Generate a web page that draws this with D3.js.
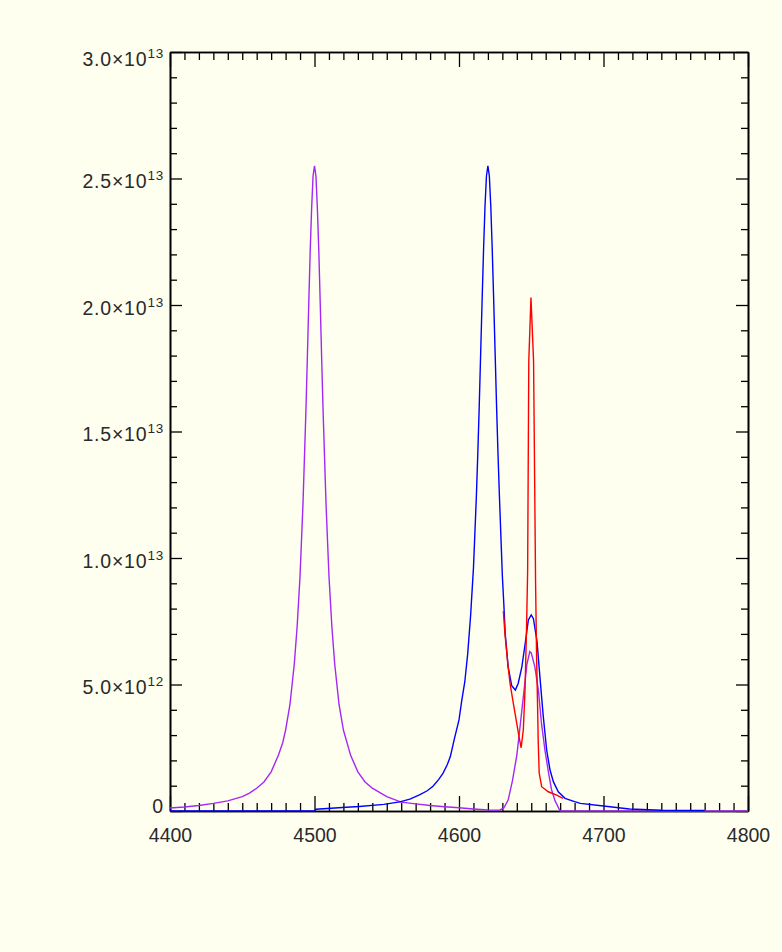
<!DOCTYPE html>
<html lang="en">
<head>
<meta charset="UTF-8">
<title>Spectra</title>
<style>
    html, body { margin: 0; padding: 0; background: #fffff0; }
    #chart { display: block; }
    .axis text { font-family: "Liberation Sans", Arial, sans-serif; font-size: 19.5px; fill: #2a2a2a; }
    .ylab text { letter-spacing: 0.8px; }
    .axis path, .axis line { stroke: #000; }
</style>
</head>
<body>
<svg id="chart"></svg>
<script src="https://cdn.jsdelivr.net/npm/d3@7"></script>
<script>
// values in units of 1e12
var purpleX = [4400, 4410, 4420, 4430, 4440, 4450, 4455, 4460, 4465, 4470, 4475, 4478, 4480, 4483, 4486, 4488, 4490, 4492, 4494, 4495, 4496, 4497, 4498, 4499, 4500,
    4501, 4502, 4503, 4504, 4505, 4506, 4508, 4510, 4512, 4514, 4517, 4520, 4525, 4530, 4535, 4540, 4550, 4560, 4570, 4580, 4590, 4600, 4610, 4620, 4628,
    4631, 4634, 4637, 4640, 4642, 4644.5, 4647, 4649, 4650, 4652.5, 4655, 4657, 4659.5, 4662, 4664, 4666.5, 4670, 4800];
var purpleY = [0.12, 0.16, 0.22, 0.3, 0.4, 0.57, 0.71, 0.9, 1.15, 1.55, 2.2, 2.7, 3.2, 4.2, 5.8, 7.3, 9.3, 12.1, 15.7, 17.8, 20.0, 22.1, 23.8, 25.1, 25.5,
    25.1, 23.8, 22.1, 20.0, 17.8, 15.7, 12.1, 9.3, 7.3, 5.8, 4.2, 3.2, 2.2, 1.55, 1.15, 0.9, 0.57, 0.35, 0.28, 0.22, 0.17, 0.13, 0.08, 0.04, 0.03,
    0.12, 0.43, 1.2, 2.2, 3.2, 4.5, 5.8, 6.3, 6.25, 5.7, 4.75, 3.5, 2.4, 1.5, 0.85, 0.4, 0, 0];

var blueX = [4400, 4500, 4501, 4522, 4531, 4548, 4559, 4566, 4573, 4578, 4582, 4586, 4589, 4592, 4594, 4597, 4600, 4602, 4604, 4606, 4608, 4610,
    4612, 4613, 4614, 4615, 4616, 4617, 4618, 4619, 4620, 4621, 4622, 4623, 4624, 4625, 4626, 4627, 4628, 4630, 4631, 4632, 4634, 4636.5, 4639,
    4641, 4643.5, 4646, 4648, 4650, 4651.5, 4654, 4656, 4658.3, 4660.7, 4663, 4665.3, 4668.7, 4673.4, 4680, 4684, 4700, 4718, 4740, 4770];
var blueY = [0, 0, 0.07, 0.15, 0.18, 0.26, 0.36, 0.47, 0.65, 0.8, 0.98, 1.25, 1.5, 1.85, 2.15, 2.9, 3.6, 4.4, 5.1, 6.2, 7.7, 9.6,
    12.4, 14.1, 16.0, 18.1, 20.2, 22.2, 23.9, 25.1, 25.5, 25.1, 23.9, 22.2, 20.2, 18.1, 16.0, 14.1, 12.4, 9.3, 8.2, 7.0, 5.7, 4.95, 4.78,
    5.05, 5.7, 6.7, 7.55, 7.75, 7.6, 6.7, 5.3, 3.75, 2.4, 1.62, 1.16, 0.76, 0.5, 0.37, 0.3, 0.2, 0.08, 0.03, 0.02];

var redX = [4630.7, 4631.8, 4634, 4635.3, 4637.6, 4640, 4641.5, 4643, 4644.5, 4645.7, 4646.8, 4647.5, 4648.3, 4649.8, 4651.6, 4653, 4653.7,
    4654.4, 4654.8, 4655.5, 4657.2, 4661.8, 4667.6, 4672];
var redY = [7.9, 7.0, 5.7, 5.05, 4.25, 3.45, 2.95, 2.5, 3.2, 4.8, 7.4, 9.5, 17.8, 20.3, 17.8, 9.0, 6.1,
    4.1, 2.8, 1.5, 0.96, 0.76, 0.63, 0.5];

var xMajor = [4400, 4500, 4600, 4700, 4800];
var yMajor = [0, 5, 10, 15, 20, 25, 30];
var yLabels = [["0", ""], ["5.0\u00d710", "12"], ["1.0\u00d710", "13"], ["1.5\u00d710", "13"], ["2.0\u00d710", "13"], ["2.5\u00d710", "13"], ["3.0\u00d710", "13"]];

(function () {
    var width = 782, height = 952;
    var left = 170, right = 748, top = 52, bottom = 811;

    var svg = d3.select("#chart").attr("width", width).attr("height", height);
    svg.append("rect").attr("width", width).attr("height", height).attr("fill", "#fffff0");

    var x = d3.scaleLinear().domain([4400, 4800]).range([left, right]);
    var y = d3.scaleLinear().domain([0, 30]).range([bottom, top]);

    var xMinor = d3.range(4400, 4801, 10).filter(function (v) { return v % 100 !== 0; });
    var yMinor = d3.range(0, 30.01, 1).filter(function (v) { return v % 5 !== 0; });

    function style(g, w) {
        g.selectAll("path").attr("stroke-width", 1.6);
        g.selectAll("line").attr("stroke-width", w);
    }

    // minor ticks
    svg.append("g").attr("class", "axis").attr("transform", "translate(0," + bottom + ")")
        .call(d3.axisBottom(x).tickValues(xMinor).tickSize(-8).tickSizeOuter(0).tickFormat(""))
        .call(style, 1.3);
    svg.append("g").attr("class", "axis").attr("transform", "translate(0," + top + ")")
        .call(d3.axisTop(x).tickValues(xMinor).tickSize(-8).tickSizeOuter(0).tickFormat(""))
        .call(style, 1.3);
    svg.append("g").attr("class", "axis").attr("transform", "translate(" + left + ",0)")
        .call(d3.axisLeft(y).tickValues(yMinor).tickSize(-7).tickSizeOuter(0).tickFormat(""))
        .call(style, 1.3);
    svg.append("g").attr("class", "axis").attr("transform", "translate(" + right + ",0)")
        .call(d3.axisRight(y).tickValues(yMinor).tickSize(-7).tickSizeOuter(0).tickFormat(""))
        .call(style, 1.3);

    // major ticks
    svg.append("g").attr("class", "axis").attr("transform", "translate(0," + bottom + ")")
        .call(d3.axisBottom(x).tickValues(xMajor).tickSize(-15).tickSizeOuter(0).tickPadding(17).tickFormat(d3.format("d")))
        .call(style, 1.3);
    svg.append("g").attr("class", "axis").attr("transform", "translate(0," + top + ")")
        .call(d3.axisTop(x).tickValues(xMajor).tickSize(-15).tickSizeOuter(0).tickFormat(""))
        .call(style, 1.3);
    var yAxis = svg.append("g").attr("class", "axis ylab").attr("transform", "translate(" + left + ",0)")
        .call(d3.axisLeft(y).tickValues(yMajor).tickSize(-12).tickSizeOuter(0).tickPadding(6).tickFormat(""))
        .call(style, 1.3);
    svg.append("g").attr("class", "axis").attr("transform", "translate(" + right + ",0)")
        .call(d3.axisRight(y).tickValues(yMajor).tickSize(-12).tickSizeOuter(0).tickFormat(""))
        .call(style, 1.3);

    yAxis.selectAll(".tick text").each(function (d, i) {
        var t = d3.select(this).attr("dy", null);
        var lab = yLabels[i];
        t.text(lab[0]);
        if (lab[1]) {
            t.attr("y", d === 30 ? 13 : 9);
            t.append("tspan").attr("dy", -8).attr("font-size", "13.5px").text(lab[1]);
        } else {
            t.attr("y", 1);
        }
    });

    var line = d3.line()
        .x(function (d) { return x(d[0]); })
        .y(function (d) { return y(d[1]); });

    var series = [
        { xs: purpleX, ys: purpleY, color: "#a428f5" },
        { xs: blueX, ys: blueY, color: "#0000ff" },
        { xs: redX, ys: redY, color: "#ff0000" }
    ];

    series.forEach(function (s) {
        svg.append("path")
            .datum(d3.zip(s.xs, s.ys))
            .attr("d", line)
            .attr("fill", "none")
            .attr("stroke", s.color)
            .attr("stroke-width", 1.4);
    });
})();
</script>
</body>
</html>
